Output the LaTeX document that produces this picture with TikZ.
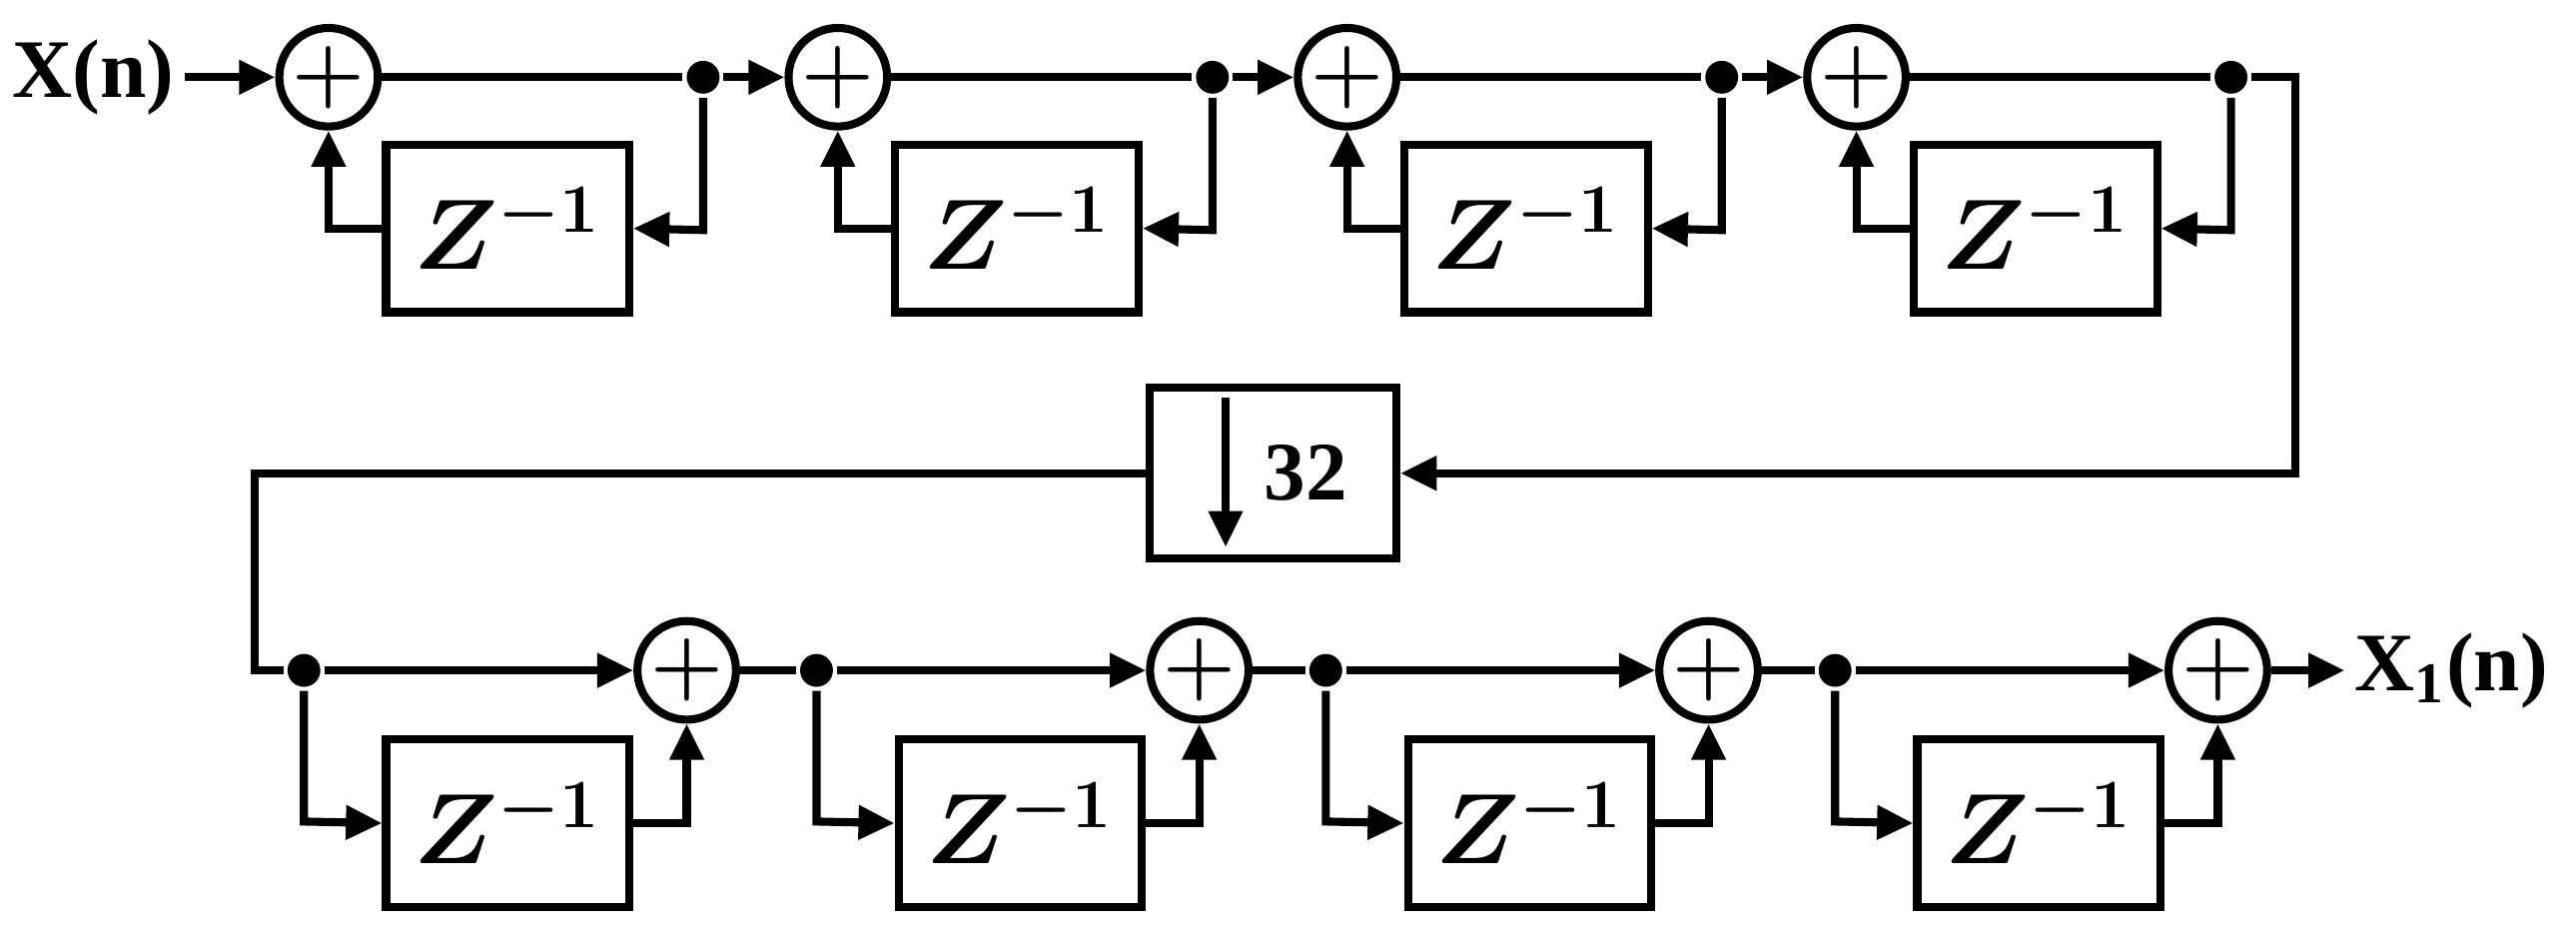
\documentclass[tikz,border=0pt]{standalone}
\usepackage{amsmath,bm}
\usepackage{fontspec}
\newfontfamily\labfont{Liberation Serif}
\usetikzlibrary{arrows.meta}
\begin{document}
\begin{tikzpicture}[x=0.1mm,y=-0.1mm,line width=1.4pt,
  arr/.style={-{Triangle[length=2.2mm,width=2mm]}},
  add/.style={circle,draw,minimum size=6mm,inner sep=0pt,line width=1.4pt},
  zb/.style={draw,minimum width=14.8mm,minimum height=10.2mm,inner sep=0pt,line width=1.4pt,font=\LARGE},
  dot/.style={circle,fill,inner sep=0pt,minimum size=2mm},
  lab/.style={font=\labfont\Large\bfseries,inner sep=1pt}]
\useasboundingbox (0,0) rectangle (1568,576);
\node[lab] (in) at (57,47) {X(n)};
\foreach \i/\x in {1/200,2/510,3/820,4/1130}{
  \node[add] (a\i) at (\x,47) {\Large$\bm{+}$};
  \node[zb] (z\i) at (\x+109,139) {$\bm{Z^{-1}}$};
  \node[dot] (d\i) at (\x+228,47) {};
  \coordinate (f\i) at (\x+228,140);
  \draw (a\i) -- (d\i);
  \draw[arr] (d\i) -- (f\i) -- (z\i.east);
  \draw[arr] (z\i.west) -| (a\i.south);
}
\draw[arr] (in.east) -- (a1);
\draw[arr] (d1) -- (a2);
\draw[arr] (d2) -- (a3);
\draw[arr] (d3) -- (a4);
\node[draw,minimum width=15mm,minimum height=10.4mm,line width=1.4pt] (dec) at (775,288) {};
\node[font=\labfont\Large\bfseries] (n32) at (795,288) {32};
\draw[arr] (746,242) -- (746,333);
\coordinate (r1) at (1397,47);
\coordinate (r2) at (1397,288);
\draw[arr] (d4) -- (r1) -- (r2) -- (dec.east);
\coordinate (l1) at (155,288);
\coordinate (l2) at (155,408);
\foreach \i/\x in {1/418,2/730,3/1040,4/1350}{
  \node[add] (b\i) at (\x,408) {\Large$\bm{+}$};
  \node[zb] (y\i) at (\x-109,501) {$\bm{Z^{-1}}$};
  \node[dot] (e\i) at (\x-233,408) {};
  \coordinate (g\i) at (\x-233,500);
  \draw[arr] (e\i) -- (b\i);
  \draw[arr] (e\i) -- (g\i) -- (y\i.west);
  \draw[arr] (y\i.east) -| (b\i.south);
}
\draw (dec.west) -- (l1) -- (l2) -- (e1);
\draw (b1) -- (e2); \draw (b2) -- (e3); \draw (b3) -- (e4);
\node[lab] (out) at (1492,408) {X\textsubscript{1}(n)};
\draw[arr] (b4) -- (out.west);
\end{tikzpicture}
\end{document}
